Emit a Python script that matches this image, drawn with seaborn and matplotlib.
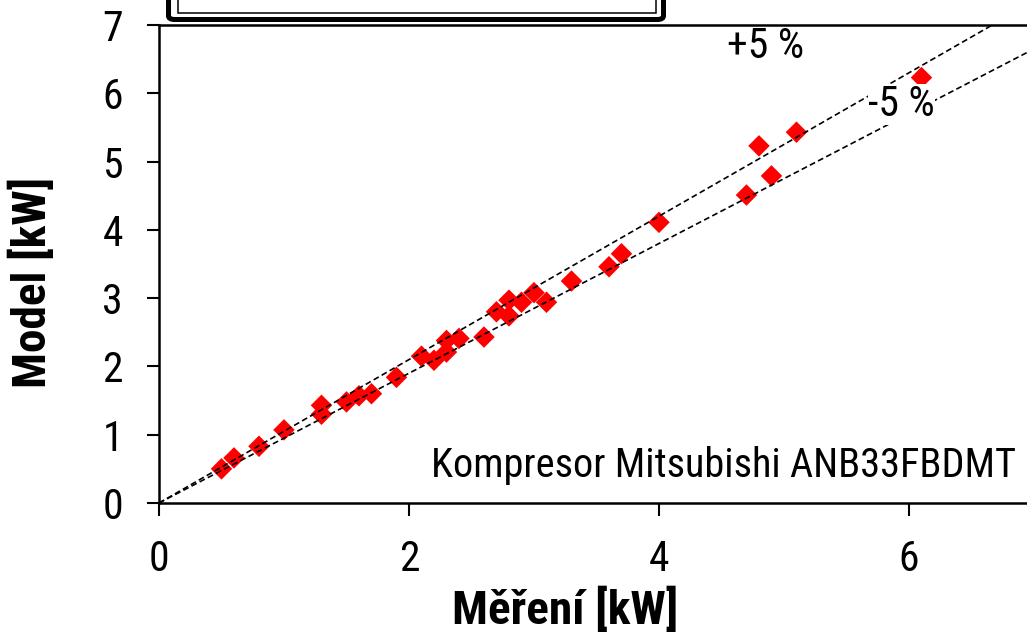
import matplotlib
matplotlib.use("Agg")
import matplotlib.pyplot as plt
from matplotlib.patches import FancyBboxPatch
from matplotlib import font_manager
import seaborn as sns
import pandas as pd

# measured vs model compressor power [kW]
mereni = [0.5, 0.6, 0.8, 1.0, 1.3, 1.3, 1.5, 1.6, 1.7, 1.9, 2.1, 2.2, 2.3, 2.3,
          2.4, 2.6, 2.7, 2.8, 2.8, 2.9, 3.0, 3.1, 3.3, 3.6, 3.7, 4.0, 4.7, 4.8,
          4.9, 5.1, 6.1, 6.1]
model = [0.50, 0.66, 0.83, 1.07, 1.43, 1.30, 1.48, 1.57, 1.60, 1.84, 2.15, 2.09,
         2.38, 2.21, 2.41, 2.43, 2.80, 2.97, 2.74, 2.94, 3.08, 2.94, 3.25, 3.46,
         3.65, 4.11, 4.51, 5.23, 4.79, 5.43, 6.23, 6.00]

ref_x = [0, 7]
tol_upper = 1.05
tol_lower = 0.95

x_ticks = [0, 2, 4, 6]
y_ticks = [0, 1, 2, 3, 4, 5, 6, 7]

df = pd.DataFrame({"Měření [kW]": mereni, "Model [kW]": model})

sns.set_style("ticks")
installed = {f.name for f in font_manager.fontManager.ttflist}
narrow = [n for n in ["Liberation Sans Narrow", "Arial Narrow", "Roboto Condensed"]
          if n in installed]
plt.rcParams["font.family"] = narrow + ["Liberation Sans", "DejaVu Sans"]
plt.rcParams["text.color"] = "black"
plt.rcParams["axes.labelcolor"] = "black"

fig = plt.figure(figsize=(10.27, 6.33), dpi=100)
ax = fig.add_axes([0.1548, 0.2054, 0.852, 0.7551])

sns.scatterplot(data=df, x="Měření [kW]", y="Model [kW]", marker="D", s=120,
                color="#ff0000", edgecolor="none", ax=ax, zorder=2)

# +/- 5 % lines
for k in (tol_upper, tol_lower):
    ax.plot(ref_x, [k * v for v in ref_x], color="black", lw=1.2,
            linestyle=(0, (3.5, 2)), zorder=3)

ax.set_xlim(0, 7)
ax.set_ylim(0, 7)
ax.set_xticks(x_ticks)
ax.set_yticks(y_ticks)
ax.tick_params(axis="both", direction="out", length=9, width=1.5,
               labelsize=30, pad=17, color="black", labelcolor="black")
for sp in ax.spines.values():
    sp.set_visible(True)
    sp.set_linewidth(1.8)
    sp.set_color("black")

ax.set_xlabel("Měření [kW]", fontsize=34, fontweight="bold", va="center", ha="center")
ax.set_ylabel("Model [kW]", fontsize=34, fontweight="bold", va="center", ha="center")
ax.xaxis.set_label_coords(0.464, -0.224)
ax.yaxis.set_label_coords(-0.145, 0.462)

ax.text(4.85, 6.68, "+5 %", fontsize=30, ha="center", va="center", zorder=4)
ax.text(5.94, 5.83, "-5 %", fontsize=30, ha="center", va="center", zorder=4,
        bbox=dict(facecolor="white", edgecolor="none", pad=0))
ax.text(6.86, 0.38, "Kompresor Mitsubishi ANB33FBDMT", fontsize=29,
        ha="right", va="baseline", zorder=4)

# legend frame cut off at the top edge
W, H = 1027, 633
outer = FancyBboxPatch((168.5 / W, (H - 19.5) / H), 495 / W, 60 / H,
                       boxstyle="round,pad=0,rounding_size=0.006",
                       transform=fig.transFigure, facecolor="white",
                       edgecolor="black", lw=3.6, clip_on=False)
inner = FancyBboxPatch((177.5 / W, (H - 12.5) / H), 478 / W, 60 / H,
                       boxstyle="square,pad=0", transform=fig.transFigure,
                       facecolor="white", edgecolor="black", lw=1.1,
                       clip_on=False)
fig.patches.extend([outer, inner])

fig.savefig("out.png", dpi=100, facecolor="white")
